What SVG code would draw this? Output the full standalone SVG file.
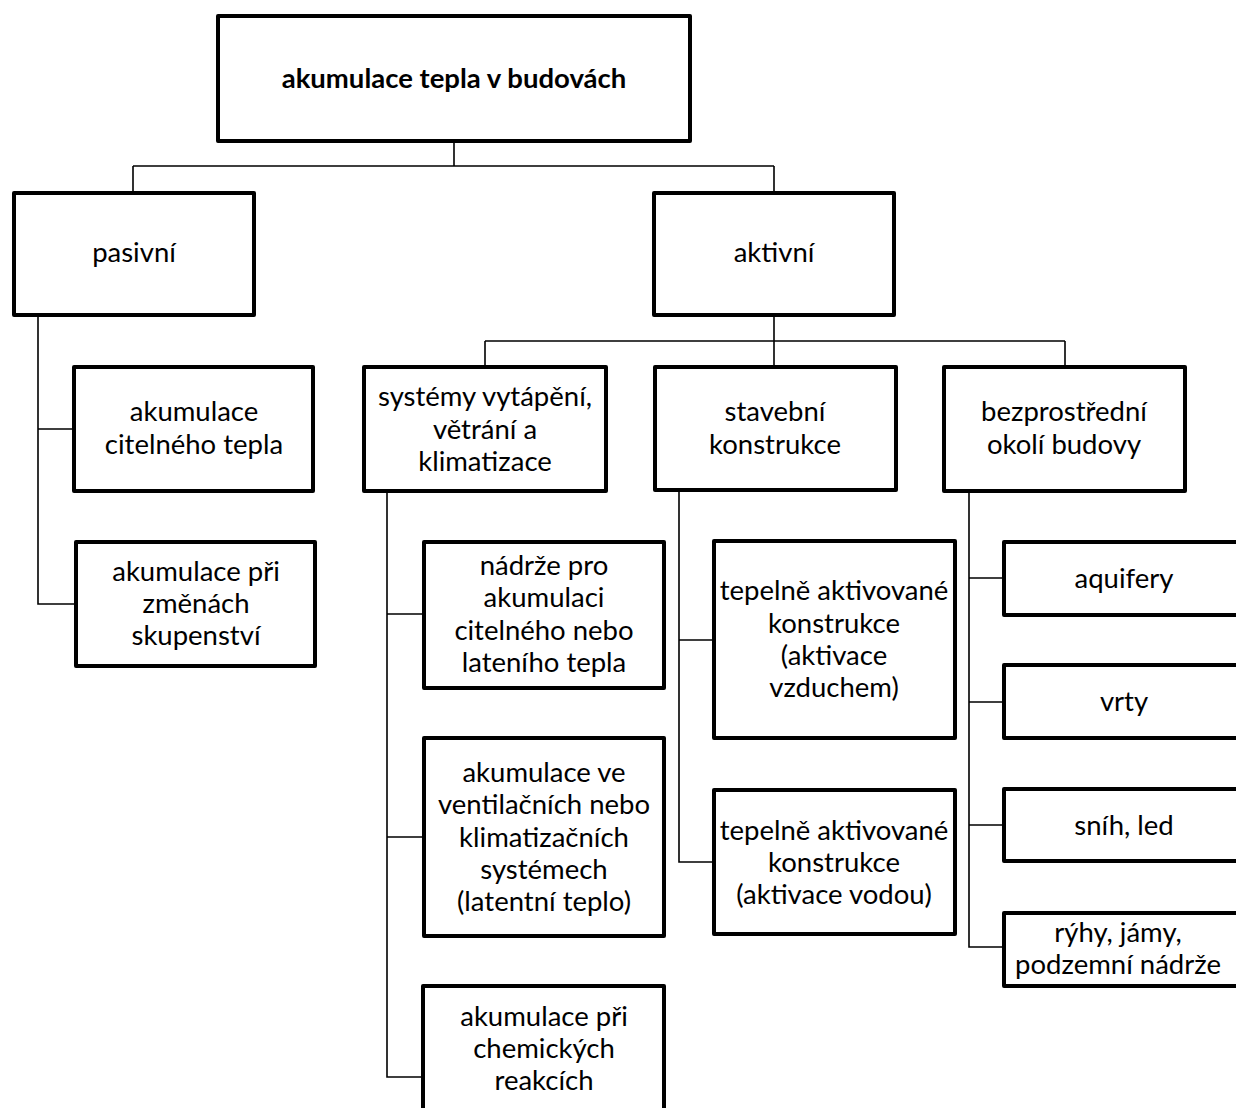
<svg xmlns="http://www.w3.org/2000/svg" width="1236" height="1108" viewBox="0 0 1236 1108">
<style>
.b{fill:#fff;stroke:#000;stroke-width:4;stroke-linejoin:round}
.c{fill:none;stroke:#000;stroke-width:1.6}
text{font-family:Lato,"Open Sans",sans-serif;font-size:27.5px;fill:#000;text-anchor:middle}
.t{font-weight:bold}
</style>
<rect width="1236" height="1108" fill="#fff"/>
<g id="connectors">
<path class="c" d="M454 141V166M133 166H774M133 166V193M774 166V193"/>
<path class="c" d="M38 316V604H76M38 429H74"/>
<path class="c" d="M774 316V341M485 341H1065M485 341V366M774 341V366M1065 341V366"/>
<path class="c" d="M387 492V1077H423M387 614H423M387 837H423"/>
<path class="c" d="M679 491V862H713M679 640H713"/>
<path class="c" d="M969 492V947H1003M969 578H1003M969 702H1003M969 825H1003"/>
</g>
<g id="root"><rect class="b" x="218" y="16" width="472" height="125"/><text class="t" x="454" y="88">akumulace tepla v budovách</text></g>
<g id="pasivni"><rect class="b" x="14" y="193" width="240" height="122"/><text x="134" y="262">pasivní</text></g>
<g id="aktivni"><rect class="b" x="654" y="193" width="240" height="122"/><text x="774" y="262">aktivní</text></g>
<g id="citelne"><rect class="b" x="74" y="367" width="239" height="124"/><text x="194" y="421">akumulace</text><text x="194" y="454">citelného tepla</text></g>
<g id="skupenstvi"><rect class="b" x="76" y="542" width="239" height="124"/><text x="196" y="581">akumulace při</text><text x="196" y="613">změnách</text><text x="196" y="645">skupenství</text></g>
<g id="systemy"><rect class="b" x="364" y="367" width="242" height="124"/><text x="485" y="406">systémy vytápění,</text><text x="485" y="439">větrání a</text><text x="485" y="471">klimatizace</text></g>
<g id="stavebni"><rect class="b" x="655" y="367" width="241" height="123"/><text x="775" y="421">stavební</text><text x="775" y="454">konstrukce</text></g>
<g id="okoli"><rect class="b" x="944" y="367" width="241" height="124"/><text x="1064" y="421">bezprostřední</text><text x="1064" y="454">okolí budovy</text></g>
<g id="nadrze"><rect class="b" x="424" y="542" width="240" height="146"/><text x="544" y="575">nádrže pro</text><text x="544" y="607">akumulaci</text><text x="544" y="640">citelného nebo</text><text x="544" y="672">lateního tepla</text></g>
<g id="ventilacni"><rect class="b" x="424" y="738" width="240" height="198"/><text x="544" y="782">akumulace ve</text><text x="544" y="814">ventilačních nebo</text><text x="544" y="847">klimatizačních</text><text x="544" y="879">systémech</text><text x="544" y="911">(latentní teplo)</text></g>
<g id="chemicke"><rect class="b" x="423" y="986" width="241" height="140"/><text x="544" y="1026">akumulace při</text><text x="544" y="1058">chemických</text><text x="544" y="1090">reakcích</text></g>
<g id="tak1"><rect class="b" x="714" y="541" width="241" height="197"/><text x="834" y="600">tepelně aktivované</text><text x="834" y="633">konstrukce</text><text x="834" y="665">(aktivace</text><text x="834" y="697">vzduchem)</text></g>
<g id="tak2"><rect class="b" x="714" y="790" width="241" height="144"/><text x="834" y="840">tepelně aktivované</text><text x="834" y="872">konstrukce</text><text x="834" y="904">(aktivace vodou)</text></g>
<g id="aquifery"><rect class="b" x="1004" y="542" width="240" height="73"/><text x="1124" y="588">aquifery</text></g>
<g id="vrty"><rect class="b" x="1004" y="665" width="240" height="73"/><text x="1124" y="711">vrty</text></g>
<g id="snih"><rect class="b" x="1004" y="789" width="240" height="72"/><text x="1124" y="835">sníh, led</text></g>
<g id="ryhy"><rect class="b" x="1004" y="913" width="240" height="73"/><text x="1118" y="942">rýhy, jámy,</text><text x="1118" y="974">podzemní nádrže</text></g>
</svg>
